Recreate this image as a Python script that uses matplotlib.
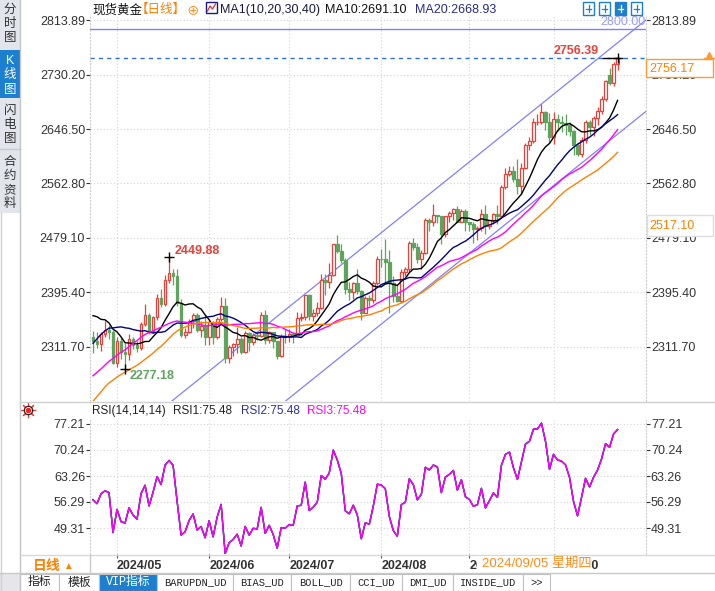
import numpy as np
import pandas as pd
import matplotlib
matplotlib.use('Agg')
import matplotlib.pyplot as plt
from matplotlib.patches import Rectangle
from matplotlib.lines import Line2D

plt.rcParams['font.family'] = ['Liberation Sans', 'Noto Sans CJK SC', 'DejaVu Sans']

# ---- data (daily candles, 2024-04-23 .. 2024-10-23) ----
# closes before the first visible candle, only used to seed MA / RSI
warmup_close = [2030, 2034, 2044, 2083, 2115, 2128, 2148, 2160, 2179, 2182,
                2158, 2174, 2162, 2156, 2160, 2157, 2186, 2181, 2165, 2172,
                2178, 2194, 2230, 2250, 2280, 2300, 2290, 2330, 2339, 2352,
                2333, 2372, 2344, 2383, 2383, 2361, 2379, 2392, 2327]

open_ = [2326, 2321, 2316, 2332, 2337, 2335, 2286, 2320, 2303, 2301,
         2323, 2314, 2309, 2346, 2360, 2336, 2358, 2386, 2377, 2415,
         2425, 2420, 2379, 2329, 2334, 2351, 2361, 2338, 2343, 2327,
         2350, 2327, 2355, 2375, 2294, 2311, 2316, 2324, 2304, 2333,
         2319, 2329, 2328, 2360, 2322, 2334, 2320, 2298, 2327, 2326,
         2331, 2330, 2356, 2357, 2392, 2359, 2364, 2371, 2415, 2411,
         2422, 2469, 2459, 2445, 2400, 2396, 2409, 2397, 2364, 2386,
         2384, 2410, 2447, 2446, 2442, 2409, 2390, 2382, 2427, 2431,
         2472, 2465, 2447, 2456, 2507, 2504, 2514, 2512, 2485, 2512,
         2517, 2524, 2504, 2521, 2503, 2500, 2493, 2495, 2516, 2497,
         2506, 2516, 2512, 2558, 2578, 2582, 2569, 2559, 2587, 2622,
         2628, 2657, 2657, 2672, 2658, 2634, 2662, 2657, 2656, 2653,
         2643, 2622, 2608, 2630, 2657, 2649, 2663, 2674, 2692, 2729,
         2718, 2746]
high = [2336, 2335, 2335, 2352, 2345, 2337, 2326, 2326, 2318, 2331,
        2327, 2320, 2349, 2378, 2364, 2359, 2393, 2400, 2422, 2449.88,
        2431, 2432, 2385, 2340, 2354, 2364, 2363, 2351, 2361, 2354,
        2351, 2358, 2388, 2387, 2314, 2318, 2342, 2326, 2336, 2334,
        2333, 2336, 2365, 2368, 2336, 2335, 2320, 2332, 2339, 2339,
        2335, 2365, 2363, 2392, 2393, 2370, 2380, 2424, 2424, 2440,
        2469, 2483, 2470, 2448, 2412, 2412, 2431, 2399, 2390, 2392,
        2413, 2451, 2462, 2477, 2461, 2420, 2408, 2431, 2435, 2475,
        2479, 2472, 2461, 2509, 2510, 2531, 2514, 2512, 2513, 2520,
        2525, 2528, 2524, 2524, 2504, 2503, 2497, 2523, 2529, 2506,
        2517, 2529, 2560, 2586, 2590, 2589, 2600, 2595, 2625, 2634,
        2664, 2670, 2685, 2674, 2671, 2673, 2669, 2667, 2670, 2657,
        2645, 2626, 2635, 2661, 2660, 2666, 2680, 2697, 2722, 2740,
        2749, 2756.39]
low = [2302, 2309, 2305, 2326, 2323, 2285, 2281, 2293, 2277.18, 2291,
       2308, 2303, 2306, 2343, 2332, 2333, 2353, 2373, 2374, 2410,
       2406, 2374, 2326, 2325, 2333, 2341, 2334, 2326, 2314, 2314,
       2316, 2323, 2352, 2286, 2287, 2298, 2302, 2301, 2302, 2305,
       2314, 2322, 2327, 2316, 2317, 2309, 2293, 2296, 2318, 2319,
       2318, 2329, 2351, 2353, 2353, 2352, 2359, 2369, 2391, 2402,
       2420, 2456, 2440, 2393, 2384, 2385, 2393, 2353, 2363, 2375,
       2379, 2406, 2435, 2410, 2364, 2380, 2381, 2379, 2420, 2427,
       2460, 2440, 2431, 2454, 2490, 2497, 2502, 2470, 2481, 2504,
       2506, 2504, 2503, 2490, 2489, 2472, 2476, 2489, 2485, 2493,
       2500, 2500, 2510, 2555, 2574, 2565, 2547, 2546, 2585, 2614,
       2625, 2652, 2655, 2645, 2625, 2624, 2644, 2642, 2638, 2636,
       2606, 2605, 2603, 2625, 2638, 2636, 2652, 2669, 2690, 2714,
       2712, 2737]
close = [2321, 2316, 2332, 2337, 2335, 2286, 2320, 2303, 2301, 2323,
         2314, 2309, 2346, 2360, 2336, 2358, 2386, 2377, 2415, 2425,
         2420, 2379, 2329, 2334, 2351, 2361, 2338, 2343, 2327, 2350,
         2327, 2355, 2375, 2294, 2311, 2316, 2324, 2304, 2333, 2319,
         2329, 2328, 2360, 2322, 2334, 2320, 2298, 2327, 2326, 2331,
         2330, 2356, 2357, 2392, 2359, 2364, 2371, 2415, 2411, 2422,
         2469, 2459, 2445, 2400, 2396, 2409, 2397, 2364, 2386, 2384,
         2410, 2447, 2446, 2442, 2409, 2390, 2382, 2427, 2431, 2472,
         2465, 2447, 2456, 2507, 2504, 2514, 2512, 2485, 2512, 2517,
         2524, 2504, 2521, 2503, 2500, 2493, 2495, 2516, 2497, 2506,
         2516, 2512, 2558, 2578, 2582, 2569, 2559, 2587, 2622, 2628,
         2657, 2657.5, 2672, 2658, 2634, 2662, 2657, 2656, 2653, 2643,
         2622, 2608, 2630, 2657, 2649, 2663, 2674, 2692, 2721, 2718,
         2746, 2756.17]

ma_periods = [10, 20, 30, 40]
ma_colors = ['#000000', '#000080', '#ff00ff', '#ff8000']

month_labels = ['2024/05', '2024/06', '2024/07', '2024/08', '2024/09', '2024/10']
month_pos = [6, 29, 49, 72, 94, 115]

price_ticks = [2311.70, 2395.40, 2479.10, 2562.80, 2646.50, 2730.20, 2813.89]
rsi_ticks = [49.31, 56.29, 63.26, 70.24, 77.21]

# user drawn lines: (index, price) end points
channel_upper = ([0, 138.5], [2130.7, 2816.3])
channel_lower = ([0, 138.5], [1990.1, 2675.7])
level_line = 2800.00

RED = '#e8413a'
GREEN = '#5da45d'
ORANGE = '#ff8000'
BLUE = '#1c7fd0'

# ---- figure ----
W, H = 715, 591
fig = plt.figure(figsize=(W / 100, H / 100), dpi=100)
fig.patch.set_facecolor('white')


def fx(px):
    return px / W


def fy(py):
    return 1 - py / H


def ftext(px, py, s, **kw):
    kw.setdefault('va', 'center')
    return fig.text(fx(px), fy(py), s, **kw)


def frect(x0, y0, x1, y1, **kw):
    r = Rectangle((fx(x0), fy(y1)), (x1 - x0) / W, (y1 - y0) / H,
                  transform=fig.transFigure, **kw)
    fig.add_artist(r)
    return r


def fline(xs, ys, **kw):
    fig.add_artist(Line2D([fx(v) for v in xs], [fy(v) for v in ys],
                          transform=fig.transFigure, **kw))


ax = fig.add_axes([fx(90), fy(401), (646 - 90) / W, (401 - 16) / H])
ax2 = fig.add_axes([fx(90), fy(554), (646 - 90) / W, (554 - 420) / H])

n = len(close)
x = np.arange(n)
o, h, l, c = (np.array(v, dtype=float) for v in (open_, high, low, close))
up = c >= o

# candles
ax.vlines(x, l, h, colors=np.where(up, RED, GREEN), lw=0.9, zorder=2)
body_bot = np.minimum(o, c)
body_h = np.maximum(np.abs(c - o), 0.6)
ax.bar(x[up], body_h[up], bottom=body_bot[up], width=0.7,
       facecolor='white', edgecolor=RED, lw=0.9, zorder=3)
ax.bar(x[~up], body_h[~up], bottom=body_bot[~up], width=0.7,
       facecolor=GREEN, edgecolor=GREEN, lw=0.9, zorder=3)

# moving averages
all_close = pd.Series(warmup_close + close, dtype=float)
k = len(warmup_close)
for p, col in zip(ma_periods, ma_colors):
    ma = all_close.rolling(p).mean().iloc[k:].to_numpy()
    ax.plot(x, ma, color=col, lw=1.0, zorder=4)

# drawn lines
ax.plot(*channel_upper, color='#8080ff', lw=0.9, zorder=1.5)
ax.plot(*channel_lower, color='#8080ff', lw=0.9, zorder=1.5)
ax.axhline(level_line, color='#8080ff', lw=1.0, zorder=1.5)
ax.text(138, level_line + 1.5, f'{level_line:.2f}', color='#9a9aff',
        fontsize=9, ha='right', va='bottom', clip_on=True)
ax.axhline(c[-1], color='#2a6fdb', lw=1.0, ls=(0, (3, 3)), zorder=1.6)

# high / low marks
i_max = int(np.argmax(h))
i_min = int(np.argmin(l))
i_loc = int(np.argmax(h[:40]))
for i, v in ((i_max, h[i_max]), (i_min, l[i_min]), (i_loc, h[i_loc])):
    ax.plot(i, v, marker='+', color='black', ms=7, mew=1, zorder=6)
ax.plot([i_max - 3.7, i_max], [h[i_max], h[i_max]], color='black', lw=1, zorder=6)
ax.annotate(f'{h[i_max]:.2f}', xy=(i_max, h[i_max]), xytext=(-19, 7),
            textcoords='offset pixels', ha='right', va='center',
            color=RED, fontsize=9, fontweight='bold')
ax.annotate(f'{h[i_loc]:.2f}', xy=(i_loc, h[i_loc]), xytext=(6, 6),
            textcoords='offset pixels', ha='left', va='center',
            color=RED, fontsize=9, fontweight='bold')
ax.annotate(f'{l[i_min]:.2f}', xy=(i_min, l[i_min]), xytext=(5, -7),
            textcoords='offset pixels', ha='left', va='center',
            color=GREEN, fontsize=9, fontweight='bold')

# RSI (SMA(x,14,1) style)
d = all_close.diff().iloc[1:]
gain = d.clip(lower=0).ewm(alpha=1 / 14, adjust=False).mean()
tot = d.abs().ewm(alpha=1 / 14, adjust=False).mean()
rsi = (gain / tot * 100).iloc[k - 1:].to_numpy()
ax2.plot(x, rsi, color='#222222', lw=1)
ax2.plot(x, rsi, color='#3333aa', lw=1)
ax2.plot(x, rsi, color='#ff00ff', lw=1)

# axes styling
for a, yl, ticks in ((ax, (2228.2, 2820.4), price_ticks), (ax2, (42.34, 78.28), rsi_ticks)):
    a.set_xlim(-0.75, 138.1)
    a.set_ylim(*yl)
    a.set_yticks(ticks)
    a.set_yticklabels([f'{v:.2f}' for v in ticks])
    a.set_xticks(month_pos)
    a.grid(True, color='#d5d5d5', ls=(0, (1, 2)), lw=0.8)
    a.set_axisbelow(True)
    a.tick_params(axis='y', left=True, right=True, labelleft=True, labelright=True,
                  length=3, width=0.8, pad=0.5, labelsize=9, colors='#333333')
    for s in ('top', 'bottom'):
        a.spines[s].set_visible(False)
    for s in ('left', 'right'):
        a.spines[s].set_color('#cccccc')
        a.spines[s].set_linestyle((0, (1, 2)))
        a.spines[s].set_linewidth(0.8)

ax.set_xticklabels([])
ax.tick_params(axis='x', length=0)
ax2.set_xticklabels(month_labels, ha='left', fontweight='bold', fontsize=9, color='#333333')
ax2.tick_params(axis='x', length=3, width=0.8, pad=1.5, color='#555555')

# ---- title rows ----
ftext(92, 10, '现货黄金', color='#111111', fontsize=9)
ftext(136, 10, '【日线】', color=ORANGE, fontsize=9)
ftext(192.5, 11, '⊕', color=ORANGE, fontsize=9, ha='center')
frect(206, 2, 217, 13, facecolor='white', edgecolor='#1a1a80', lw=1)
fline([207.5, 210, 212.5, 215.5], [11, 6, 9, 4], color='#e03030', lw=0.9)
ftext(220, 10, 'MA1(10,20,30,40)', color='#1a1a40', fontsize=9)
ftext(325, 10, 'MA10:2691.10', color='#111111', fontsize=9)
ftext(415, 10, 'MA20:2668.93', color='#2b2b8c', fontsize=9)
for i, x0 in enumerate([583, 599, 615, 631]):
    frect(x0, 2, x0 + 11, 15, facecolor=BLUE if i == 2 else 'white', edgecolor=BLUE, lw=1)
    fline([x0 + 3, x0 + 8], [8.5, 8.5], color='white' if i == 2 else BLUE, lw=0.9)
    fline([x0 + 5.5, x0 + 5.5], [5, 12], color='white' if i == 2 else BLUE, lw=0.9)

ftext(92, 411, 'RSI(14,14,14)', color='#222222', fontsize=8.5)
ftext(173, 411, 'RSI1:75.48', color='#222222', fontsize=8.5)
ftext(241, 411, 'RSI2:75.48', color='#2e2e9a', fontsize=8.5)
ftext(307, 411, 'RSI3:75.48', color='#ff00ff', fontsize=8.5)
fig.add_artist(Line2D([fx(28)], [fy(410)], marker=(8, 2, 0), ms=11, color='#ff3030',
                      mew=0.8, transform=fig.transFigure))
fig.add_artist(Line2D([fx(28)], [fy(410)], marker='o', ms=6, mfc='white', mec='#222222',
                      mew=0.9, transform=fig.transFigure))
fig.add_artist(Line2D([fx(28)], [fy(410)], marker='o', ms=3, color='#ff2020',
                      transform=fig.transFigure))

# right side value boxes
frect(646, 59, 713, 77, facecolor='white', edgecolor='#ff9a30', lw=1)
ftext(649, 68.5, f'{c[-1]:.2f}', color=ORANGE, fontsize=9)
fig.add_artist(Line2D([fx(709)], [fy(54.5)], marker='^', ms=5, color='#ff9a30',
                      transform=fig.transFigure))
fline([704, 714], [58, 58], color='#ff9a30', lw=1)
frect(647, 215, 713, 236, facecolor='white', edgecolor='#dddddd', lw=1)
ftext(649, 226, '2517.10', color=ORANGE, fontsize=9)

# ---- left tab strip ----
frect(0, 0, 20, 213, facecolor='#e3e5ec', edgecolor='none')
frect(0, 50, 20, 98, facecolor=BLUE, edgecolor='none')
fline([0, 20], [149, 149], color='#c8c8d0', lw=1)
for s, yy in zip('分时图', [9.5, 23.5, 38.5]):
    ftext(10, yy, s, ha='center', color='#333333', fontsize=9)
for s, yy in zip('K线图', [61, 75, 90]):
    ftext(10, yy, s, ha='center', color='white', fontsize=9)
for s, yy in zip('闪电图', [111, 125, 139]):
    ftext(10, yy, s, ha='center', color='#333333', fontsize=9)
for s, yy in zip('合约资料', [162, 176, 190, 204]):
    ftext(10, yy, s, ha='center', color='#333333', fontsize=9)
fline([20, 20], [0, 591], color='#c4c4c4', lw=1)
fline([0.5, 0.5], [213, 591], color='#d0d0d0', lw=1)

# panel separators
fline([20, 715], [401.5, 401.5], color='#d0d0d0', lw=1)
fline([20, 715], [555, 555], color='#d8d8d8', lw=1)
fline([0, 715], [573, 573], color='#c8c8c8', lw=1)
fline([89.5, 89.5], [555, 573], color='#c8c8c8', lw=1)
ftext(33, 566, '日线', color=ORANGE, fontsize=10, fontweight='bold')
ftext(63, 566, '▲', color=ORANGE, fontsize=7)

# crosshair date label
frect(477, 556, 591, 571.5, facecolor='white', edgecolor='none', zorder=5)
ftext(482, 563.5, '2024/09/05 星期四', color='#ff8c1a', fontsize=9.5, zorder=6)

# ---- bottom tab bar ----
frect(0, 573.5, 20, 591, facecolor='#e6e6ea', edgecolor='none')
tabs = [(20, 59, '指标'), (59, 99, '模板'), (99, 157, 'VIP指标'), (157, 233, 'BARUPDN_UD'),
        (233, 291, 'BIAS_UD'), (291, 350, 'BOLL_UD'), (350, 402, 'CCI_UD'),
        (402, 453, 'DMI_UD'), (453, 523, 'INSIDE_UD'), (523, 550, '>>')]
for x0, x1, s in tabs:
    vip = s == 'VIP指标'
    frect(x0, 574, x1, 591, facecolor=BLUE if vip else 'white', edgecolor='#c0c0c0', lw=0.8)
    cjk = any(ord(ch) > 255 for ch in s) and not vip
    ftext((x0 + x1) / 2, 582.5, s, ha='center', color='white' if vip else '#222222',
          fontsize=8.5 if (cjk or vip) else 7.5,
          family=['Liberation Mono', 'Noto Sans CJK SC'])

fig.savefig('out.png', dpi=100)
